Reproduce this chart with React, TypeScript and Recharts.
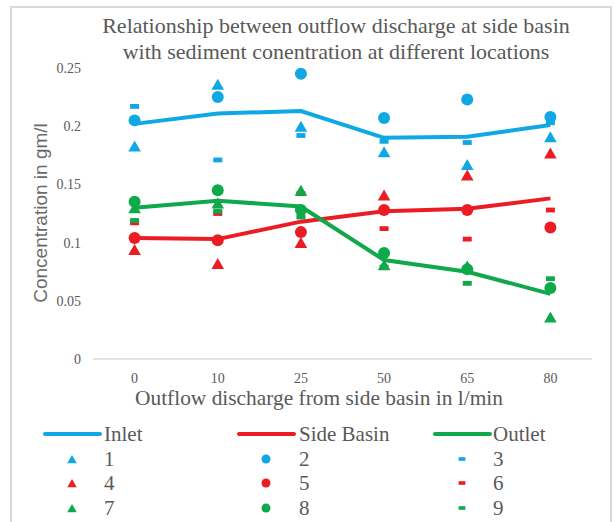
import React from 'react';
import { ComposedChart, Line, Scatter, XAxis, YAxis } from 'recharts';

const CATEGORIES = ['0', '10', '25', '50', '65', '80'];
const Y_TICKS = [0, 0.05, 0.1, 0.15, 0.2, 0.25];

// mean lines
const INLET = [0.202, 0.211, 0.213, 0.19, 0.191, 0.201];
const SIDE_BASIN = [0.104, 0.103, 0.118, 0.127, 0.129, 0.138];
const OUTLET = [0.13, 0.136, 0.131, 0.085, 0.075, 0.056];

// individual samples
const S1 = [0.183, 0.236, 0.2, 0.178, 0.167, 0.191];
const S2 = [0.205, 0.225, 0.245, 0.207, 0.223, 0.208];
const S3 = [0.217, 0.171, 0.192, 0.187, 0.186, 0.203];
const S4 = [0.094, 0.082, 0.1, 0.141, 0.158, 0.177];
const S5 = [0.104, 0.102, 0.109, 0.128, 0.128, 0.113];
const S6 = [0.117, 0.125, 0.142, 0.112, 0.103, 0.128];
const S7 = [0.13, 0.134, 0.145, 0.081, 0.08, 0.036];
const S8 = [0.135, 0.145, 0.128, 0.091, 0.077, 0.061];
const S9 = [0.119, 0.127, 0.122, 0.079, 0.065, 0.069];

const BLUE = '#0fa8e4';
const RED = '#ec1c24';
const GREEN = '#0fa84a';
const TEXT = '#595959';
const SERIF = '"Liberation Serif", "Times New Roman", serif';

const data = CATEGORIES.map((x, i) => ({
  x,
  inlet: INLET[i],
  side: SIDE_BASIN[i],
  outlet: OUTLET[i],
  s1: S1[i], s2: S2[i], s3: S3[i],
  s4: S4[i], s5: S5[i], s6: S6[i],
  s7: S7[i], s8: S8[i], s9: S9[i],
}));

type Kind = 'triangle' | 'circle' | 'dash';

const marker = (kind: Kind, color: string, cx: number, cy: number, s = 1) => {
  if (kind === 'triangle') {
    const w = 6.3 * s, h = 5.5 * s;
    return <polygon points={`${cx - w},${cy + h} ${cx + w},${cy + h} ${cx},${cy - h}`} fill={color} />;
  }
  if (kind === 'circle') return <circle cx={cx} cy={cy} r={6 * s} fill={color} />;
  return <rect x={cx - 4.5 * s} y={cy - 2.4 * s} width={9 * s} height={4.8 * s} fill={color} />;
};

const shapeOf = (kind: Kind, color: string) => (props: any) => {
  const { cx, cy } = props;
  if (cx == null || cy == null) return <g />;
  return marker(kind, color, cx, cy);
};

const SAMPLES: { key: string; label: string; kind: Kind; color: string }[] = [
  { key: 's1', label: '1', kind: 'triangle', color: BLUE },
  { key: 's2', label: '2', kind: 'circle', color: BLUE },
  { key: 's3', label: '3', kind: 'dash', color: BLUE },
  { key: 's4', label: '4', kind: 'triangle', color: RED },
  { key: 's5', label: '5', kind: 'circle', color: RED },
  { key: 's6', label: '6', kind: 'dash', color: RED },
  { key: 's7', label: '7', kind: 'triangle', color: GREEN },
  { key: 's8', label: '8', kind: 'circle', color: GREEN },
  { key: 's9', label: '9', kind: 'dash', color: GREEN },
];

const LINES = [
  { key: 'inlet', label: 'Inlet', color: BLUE },
  { key: 'side', label: 'Side Basin', color: RED },
  { key: 'outlet', label: 'Outlet', color: GREEN },
];

const LEG_ICON_X = [45, 239, 435];
const LEG_TEXT_X = [104, 299, 493];
const LEG_ROW_Y = [434, 459, 483, 508];

const App: React.FC = () => {
  return (
    <div style={{ position: 'absolute', left: 0, top: 0, width: 614, height: 522, overflow: 'hidden', background: '#fff' }}>
      <div style={{ position: 'absolute', left: 10, top: 6, width: 598, height: 540, border: '2px solid #d9d9d9' }} />
      <div style={{ position: 'absolute', left: 0, top: 0 }}>
        <ComposedChart width={614} height={400} data={data} margin={{ top: 68, right: 22, bottom: 11, left: 0 }}>
          <XAxis
            dataKey="x"
            type="category"
            height={30}
            padding={{ left: 41.6, right: 41.6 }}
            tickLine={false}
            axisLine={{ stroke: '#d9d9d9', strokeWidth: 1.5 }}
            tickMargin={8}
            tick={{ fill: TEXT, fontSize: 14, fontFamily: SERIF }}
          />
          <YAxis
            width={93}
            domain={[0, 0.25]}
            ticks={Y_TICKS}
            axisLine={false}
            tickLine={false}
            tickMargin={6}
            tick={{ fill: TEXT, fontSize: 14, fontFamily: SERIF }}
            tickFormatter={(v: number) => String(v)}
          />
          {LINES.map((l) => (
            <Line
              key={l.key}
              dataKey={l.key}
              stroke={l.color}
              strokeWidth={4}
              dot={false}
              activeDot={false}
              type="linear"
              isAnimationActive={false}
            />
          ))}
          {SAMPLES.map((s) => (
            <Scatter
              key={s.key}
              dataKey={s.key}
              fill={s.color}
              shape={shapeOf(s.kind, s.color)}
              isAnimationActive={false}
            />
          ))}
        </ComposedChart>
      </div>
      <svg width={614} height={522} style={{ position: 'absolute', left: 0, top: 0, pointerEvents: 'none' }}>
        <g fontFamily={SERIF} fill={TEXT}>
          <text x={336} y={33} fontSize={22} textAnchor="middle">Relationship between outflow discharge at side basin</text>
          <text x={336} y={59} fontSize={22} textAnchor="middle">with sediment conentration at different locations</text>
          <text x={319} y={405} fontSize={21.4} textAnchor="middle">Outflow discharge from side basin in l/min</text>
        </g>
        <text
          transform="translate(47,213) rotate(-90)"
          x={0}
          y={0}
          fontSize={19}
          fontFamily='"Liberation Sans", Arial, sans-serif'
          fill="#6a6a6a"
          textAnchor="middle"
        >
          Concentration in gm/l
        </text>
        {LINES.map((l, i) => (
          <g key={l.key}>
            <line x1={LEG_ICON_X[i]} x2={LEG_ICON_X[i] + 55} y1={LEG_ROW_Y[0]} y2={LEG_ROW_Y[0]} stroke={l.color} strokeWidth={4} strokeLinecap="round" />
            <text x={LEG_TEXT_X[i]} y={LEG_ROW_Y[0] + 7} fontSize={21} fontFamily={SERIF} fill={TEXT}>{l.label}</text>
          </g>
        ))}
        {SAMPLES.map((s, i) => {
          const col = i % 3;
          const row = Math.floor(i / 3) + 1;
          const cy = LEG_ROW_Y[row];
          return (
            <g key={s.key}>
              {marker(s.kind, s.color, LEG_ICON_X[col] + 27, cy, 0.75)}
              <text x={LEG_TEXT_X[col]} y={cy + 7} fontSize={21} fontFamily={SERIF} fill={TEXT}>{s.label}</text>
            </g>
          );
        })}
      </svg>
    </div>
  );
};

export default App;
